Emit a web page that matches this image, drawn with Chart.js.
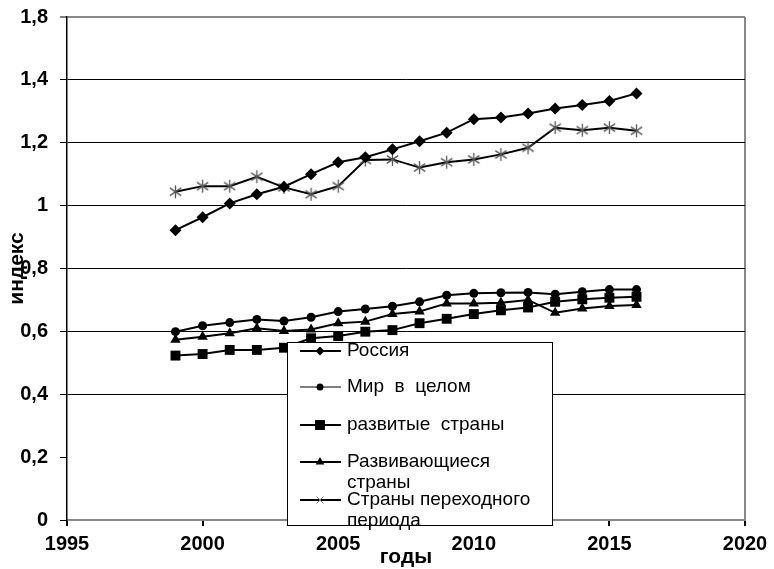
<!DOCTYPE html>
<html>
<head>
<meta charset="utf-8">
<script src="https://cdn.jsdelivr.net/npm/chart.js@4/dist/chart.umd.min.js"></script>
<style>
  html, body { margin: 0; padding: 0; background: #fff; }
  #wrap { width: 774px; height: 569px; }
</style>
</head>
<body>
<div id="wrap"><canvas id="indexChart" width="774" height="569"></canvas></div>
<script>
// Years and index values
const years = [1999, 2000, 2001, 2002, 2003, 2004, 2005, 2006, 2007, 2008, 2009, 2010, 2011, 2012, 2013, 2014, 2015, 2016];

const russia     = [0.922, 0.963, 1.007, 1.036, 1.060, 1.100, 1.138, 1.154, 1.179, 1.205, 1.232, 1.275, 1.280, 1.293, 1.309, 1.320, 1.333, 1.357];
const world      = [0.599, 0.618, 0.628, 0.638, 0.633, 0.645, 0.663, 0.671, 0.680, 0.694, 0.715, 0.721, 0.723, 0.724, 0.718, 0.726, 0.733, 0.733];
const developed  = [0.523, 0.528, 0.541, 0.541, 0.548, 0.578, 0.585, 0.599, 0.604, 0.626, 0.640, 0.655, 0.667, 0.676, 0.694, 0.702, 0.707, 0.710];
const developing = [0.573, 0.583, 0.594, 0.610, 0.601, 0.606, 0.626, 0.631, 0.655, 0.663, 0.689, 0.689, 0.691, 0.700, 0.659, 0.673, 0.681, 0.684];
const transition = [1.044, 1.062, 1.062, 1.092, 1.058, 1.036, 1.062, 1.145, 1.147, 1.121, 1.138, 1.147, 1.163, 1.184, 1.248, 1.240, 1.248, 1.238];

const seriesNames = [
  ["Россия"],
  ["Мир  в  целом"],
  ["развитые  страны"],
  ["Развивающиеся", "страны"],
  ["Страны переходного", "периода"]
];

// y tick labels as printed (top one reads 1,8 in the original)
const yTickValues = [0, 0.2, 0.4, 0.6, 0.8, 1, 1.2, 1.4, 1.6];
const yTickLabels = ["0", "0,2", "0,4", "0,6", "0,8", "1", "1,2", "1,4", "1,8"];
const xTickValues = [1995, 2000, 2005, 2010, 2015, 2020];

const FONT = "'Liberation Sans', Arial, sans-serif";
Chart.defaults.font.family = FONT;
Chart.defaults.color = "#000";

// asterisk marker for the transition series
function makeStar(size, color) {
  const c = document.createElement("canvas");
  c.width = size; c.height = size;
  const g = c.getContext("2d");
  const m = size / 2, r = size / 2 - 1;
  g.strokeStyle = color;
  g.lineWidth = 1.3;
  g.beginPath();
  g.moveTo(m, m - r); g.lineTo(m, m + r);
  const dx = r * 0.87, dy = r * 0.6;
  g.moveTo(m - dx, m - dy); g.lineTo(m + dx, m + dy);
  g.moveTo(m - dx, m + dy); g.lineTo(m + dx, m - dy);
  g.stroke();
  return c;
}
const star = makeStar(15, "#555");

const toXY = arr => years.map((yr, i) => ({ x: yr, y: arr[i] }));

const datasets = [
  { label: seriesNames[0].join(" "), data: toXY(russia), pointStyle: "rectRot", pointRadius: 6, legendStyle: "rectRot", legendRadius: 4.5, legendWidth: 2 },
  { label: seriesNames[1].join(" "), data: toXY(world), pointStyle: "circle", pointRadius: 4.5, legendStyle: "circle", legendRadius: 3.5, legendWidth: 1 },
  { label: seriesNames[2].join(" "), data: toXY(developed), pointStyle: "rect", pointRadius: 7, legendStyle: "rect", legendRadius: 7, legendWidth: 2 },
  { label: seriesNames[3].join(" "), data: toXY(developing), pointStyle: "triangle", pointRadius: 6, legendStyle: "triangle", legendRadius: 5, legendWidth: 2 },
  { label: seriesNames[4].join(" "), data: toXY(transition), pointStyle: star, pointRadius: 7, legendStyle: "crossRot", legendRadius: 5, legendWidth: 2 }
].map(d => Object.assign({
  borderColor: "#000",
  backgroundColor: "#000",
  pointBackgroundColor: "#000",
  pointBorderColor: "#000",
  pointBorderWidth: 0,
  borderWidth: 2,
  tension: 0,
  fill: false
}, d));

// boxed legend sitting over the plot, as in the original
const boxLegend = {
  id: "boxLegend",
  afterDraw(chart) {
    const ctx = chart.ctx;
    const box = { x: 287, y: 342, w: 265, h: 183 };
    const rowY = [351, 387, 425, 462, 500];
    const lineH = 21;
    ctx.save();
    ctx.fillStyle = "#fff";
    ctx.fillRect(box.x, box.y, box.w, box.h);
    ctx.strokeStyle = "#000";
    ctx.lineWidth = 1;
    ctx.strokeRect(box.x + 0.5, box.y + 0.5, box.w, box.h);
    chart.data.datasets.forEach((ds, i) => {
      const y = rowY[i];
      ctx.strokeStyle = "#000";
      ctx.lineWidth = ds.legendWidth;
      ctx.beginPath();
      ctx.moveTo(300, y); ctx.lineTo(341, y);
      ctx.stroke();
      const isCross = ds.legendStyle === "crossRot";
      ctx.fillStyle = "#000";
      ctx.strokeStyle = isCross ? "#777" : "#000";
      ctx.lineWidth = 1;
      Chart.helpers.drawPoint(ctx, {
        pointStyle: ds.legendStyle,
        radius: ds.legendRadius,
        borderWidth: isCross ? 1 : 0,
        rotation: 0
      }, 320, y);
      ctx.fillStyle = "#000";
      ctx.font = "19px " + FONT;
      ctx.textBaseline = "middle";
      ctx.textAlign = "left";
      seriesNames[i].forEach((line, k) => ctx.fillText(line, 347, y + k * lineH));
    });
    ctx.restore();
  }
};

new Chart(document.getElementById("indexChart"), {
  type: "line",
  data: { datasets },
  plugins: [boxLegend],
  options: {
    responsive: false,
    animation: false,
    devicePixelRatio: 1,
    layout: { padding: { top: 17, right: 29, bottom: 0, left: 0 } },
    plugins: {
      legend: { display: false },
      tooltip: { enabled: false }
    },
    scales: {
      x: {
        type: "linear",
        min: 1995,
        max: 2020,
        afterBuildTicks: s => { s.ticks = xTickValues.map(v => ({ value: v })); },
        afterFit: s => { s.height = 49; s.paddingLeft = 0; s.paddingRight = 0; },
        ticks: {
          padding: 6,
          maxRotation: 0,
          font: { size: 20, weight: "bold" },
          callback: v => String(v)
        },
        grid: {
          color: c => (c.tick && c.tick.value === 2020 ? "#888" : "rgba(0,0,0,0)"),
          lineWidth: 2,
          tickColor: "#000",
          tickWidth: 2,
          tickLength: 6
        },
        border: { display: true, color: "#888", width: 2 },
        title: {
          display: true,
          text: "годы",
          font: { size: 21, weight: "bold", lineHeight: 1 },
          padding: { top: 0, bottom: 1.5 }
        }
      },
      y: {
        min: 0,
        max: 1.6,
        afterBuildTicks: s => { s.ticks = yTickValues.map(v => ({ value: v })); },
        afterFit: s => { s.width = 67; s.paddingTop = 0; s.paddingBottom = 0; },
        ticks: {
          padding: 12,
          font: { size: 20, weight: "bold" },
          callback: (v, i) => yTickLabels[i]
        },
        grid: {
          color: c => {
            const v = c.tick ? Math.round(c.tick.value * 10) / 10 : null;
            if (v === 0 || v === 0.2) return "rgba(0,0,0,0)";
            if (v === 1.6) return "#888";
            return "#000";
          },
          lineWidth: c => (c.tick && Math.round(c.tick.value * 10) === 16 ? 2 : 1),
          tickColor: "#000",
          tickWidth: 1,
          tickLength: 7
        },
        border: { display: true, color: "#000", width: 1.5 },
        title: {
          display: true,
          text: "индекс",
          font: { size: 21, weight: "bold", lineHeight: 1 },
          padding: { top: 6.5, bottom: 0 }
        }
      }
    }
  }
});
</script>
</body>
</html>
